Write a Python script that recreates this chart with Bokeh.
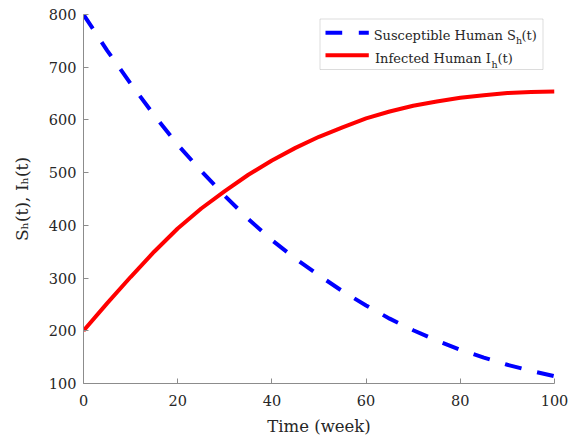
from bokeh.plotting import figure
from bokeh.models import Range1d, Label, BoxAnnotation, FixedTicker
from bokeh.embed import file_html
from bokeh.resources import INLINE

# ---- data -------------------------------------------------------------
weeks = [0, 5, 10, 15, 20, 25, 30, 35, 40, 45, 50,
         55, 60, 65, 70, 75, 80, 85, 90, 95, 100]
susceptible = [800, 732, 669, 609, 553, 503, 456, 412, 372, 337, 305,
               275, 248, 223, 201, 181.5, 164, 149, 135.5, 124, 114]
infected = [200, 252, 302, 350, 394, 432, 465, 496, 523, 547, 568,
            586, 603, 616, 627, 635, 642, 647, 651, 653, 654]
x_ticks = [0, 20, 40, 60, 80, 100]
y_ticks = [100, 200, 300, 400, 500, 600, 700, 800]

# ---- layout (pixels) --------------------------------------------------
W, H = 573, 439
LEFT, RIGHT, TOP, BOTTOM = 83, 554, 14, 383
X0, X1, Y0, Y1 = 0, 100, 100, 800

FONT = "DejaVu Serif"
TEXT = "#262626"
AXIS = "#8c8c8c"


def dx(px):
    """Canvas x pixel -> data x."""
    return X0 + (px - LEFT) / (RIGHT - LEFT) * (X1 - X0)


def dy(py):
    """Canvas y pixel -> data y."""
    return Y1 - (py - TOP) / (BOTTOM - TOP) * (Y1 - Y0)


p = figure(width=W, height=H,
           x_range=Range1d(X0, X1), y_range=Range1d(Y0, Y1),
           output_backend="svg", toolbar_location=None,
           min_border_left=LEFT, min_border_right=W - RIGHT,
           min_border_top=TOP, min_border_bottom=H - BOTTOM)
p.outline_line_color = None
p.grid.visible = False
p.background_fill_color = "white"
p.border_fill_color = "white"

for ax, ticks in ((p.xaxis[0], x_ticks), (p.yaxis[0], y_ticks)):
    ax.ticker = FixedTicker(ticks=ticks)
    ax.axis_line_color = AXIS
    ax.axis_line_width = 1
    ax.major_tick_line_color = AXIS
    ax.major_tick_in = 5
    ax.major_tick_out = 0
    ax.minor_tick_line_color = None
    ax.major_label_text_font = FONT
    ax.major_label_text_font_size = "14.5px"
    ax.major_label_text_color = TEXT
    ax.axis_label_text_font = FONT
    ax.axis_label_text_font_size = "16.5px"
    ax.axis_label_text_font_style = "normal"
    ax.axis_label_text_color = TEXT

p.xaxis[0].major_label_standoff = 11
p.yaxis[0].major_label_standoff = 7
p.xaxis[0].axis_label = "Time (week)"
p.xaxis[0].axis_label_standoff = 8
p.yaxis[0].axis_label = "S\u2095(t), I\u2095(t)"
p.yaxis[0].axis_label_text_font_size = "17px"
p.yaxis[0].axis_label_standoff = 14

# ---- curves -----------------------------------------------------------
p.line(weeks, susceptible, line_color="#0000ff", line_width=4,
       line_dash="17 16")
p.line(weeks, infected, line_color="#ff0000", line_width=4)


def label(text, px, py, size, align="left"):
    p.add_layout(Label(x=dx(px), y=dy(py), text=text,
                       text_font=FONT, text_font_size=size,
                       text_color=TEXT, text_align=align,
                       text_baseline="alphabetic"))


# ---- legend -----------------------------------------------------------
p.add_layout(BoxAnnotation(left=dx(319.5), right=dx(542.5),
                           top=dy(18.5), bottom=dy(69),
                           fill_color="white", fill_alpha=1.0,
                           line_color=AXIS, line_width=1))
# dashed sample (blue)
for a, b in ((325, 341.7), (358.3, 368.3)):
    p.add_layout(BoxAnnotation(left=dx(a), right=dx(b),
                               top=dy(30.3), bottom=dy(34.3),
                               fill_color="#0000ff", fill_alpha=1.0,
                               line_color=None))
# solid sample (red)
p.add_layout(BoxAnnotation(left=dx(325), right=dx(368.3),
                           top=dy(52.7), bottom=dy(56.7),
                           fill_color="#ff0000", fill_alpha=1.0,
                           line_color=None))

label("Susceptible Human S", 515.3, 35.0, "13px", align="right")
label("h", 515.6, 40.0, "9.5px")
label("(t)", 521.0, 35.0, "13px")

label("Infected Human I", 490.5, 58.3, "13px", align="right")
label("h", 491.0, 63.5, "9.5px")
label("(t)", 497.0, 58.3, "13px")

open("out.html", "w").write(file_html(p, INLINE))
